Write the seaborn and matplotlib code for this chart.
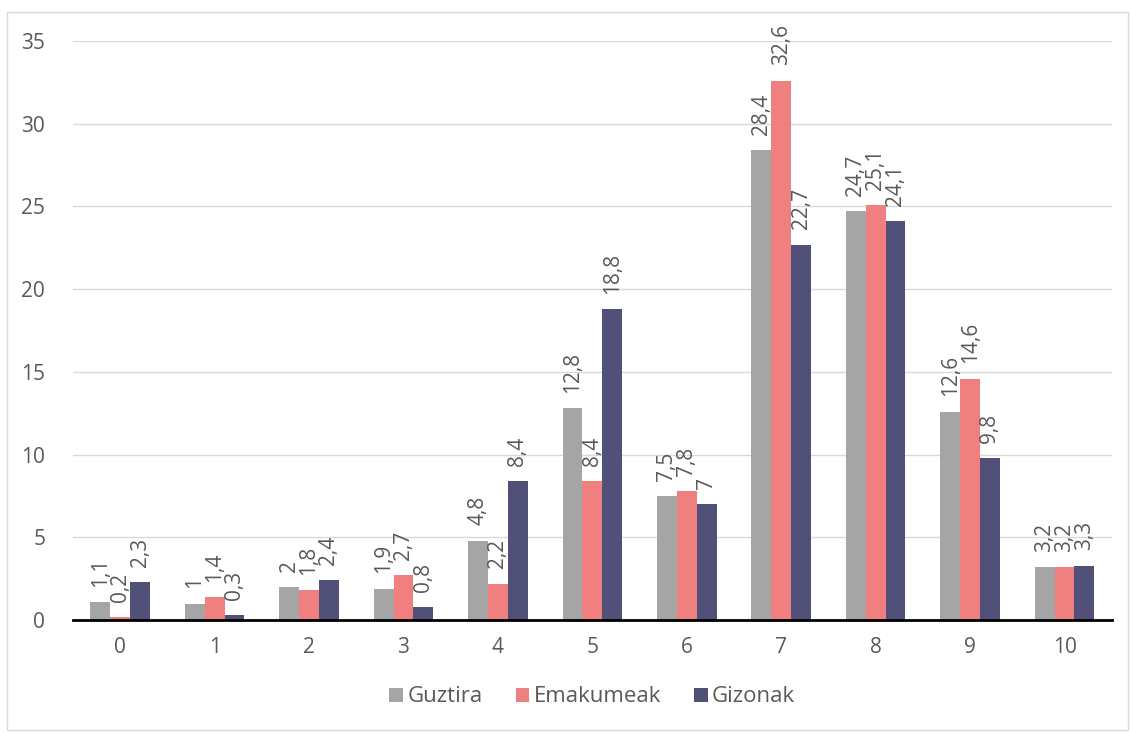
import pandas as pd
import matplotlib.pyplot as plt
import seaborn as sns
from matplotlib.patches import Rectangle

categories = ['0', '1', '2', '3', '4', '5', '6', '7', '8', '9', '10']
guztira = [1.1, 1, 2, 1.9, 4.8, 12.8, 7.5, 28.4, 24.7, 12.6, 3.2]
emakumeak = [0.2, 1.4, 1.8, 2.7, 2.2, 8.4, 7.8, 32.6, 25.1, 14.6, 3.2]
gizonak = [2.3, 0.3, 2.4, 0.8, 8.4, 18.8, 7, 22.7, 24.1, 9.8, 3.3]
series = ['Guztira', 'Emakumeak', 'Gizonak']
colors = ['#A5A5A5', '#F08080', '#505078']

df = pd.DataFrame({
    'cat': categories * 3,
    'value': guztira + emakumeak + gizonak,
    'serie': [s for s in series for _ in categories],
})

sns.set_style('white')
plt.rcParams['font.family'] = ['Open Sans', 'DejaVu Sans']
txt = '#595959'

fig = plt.figure(figsize=(11.31, 7.33), dpi=100)
ax = fig.add_axes([0.0645, 0.154, 0.9185, 0.79])

sns.barplot(data=df, x='cat', y='value', hue='serie', order=categories,
            hue_order=series, palette=colors, width=0.63, gap=0,
            saturation=1, ax=ax, linewidth=0)

# value labels
for cont, vals in zip(ax.containers, [guztira, emakumeak, gizonak]):
    labs = [str(v).replace('.', ',') for v in vals]
    ax.bar_label(cont, labels=labs, rotation=90, padding=11, fontsize=15, color=txt)

ax.set_ylim(0, 35)
ax.set_xlim(-0.5, 10.5)
ax.set_yticks(range(0, 36, 5))
ax.yaxis.grid(True, color='#D9D9D9', linewidth=1)
ax.set_axisbelow(True)
for s in ['top', 'right', 'left']:
    ax.spines[s].set_visible(False)
ax.spines['bottom'].set_color('black')
ax.spines['bottom'].set_linewidth(2)

ax.set_xticks([i + 0.5 for i in range(-1, 11)], minor=True)
ax.tick_params(axis='x', which='minor', length=7, width=2, color='black', direction='out')
ax.tick_params(axis='x', which='major', length=0, pad=12, labelsize=15, labelcolor=txt)
ax.tick_params(axis='y', length=0, pad=20, labelsize=15, labelcolor=txt)
ax.set_xlabel('')
ax.set_ylabel('')

ax.legend(loc='upper center', bbox_to_anchor=(0.5, -0.08), ncol=3, frameon=False,
          fontsize=16, labelcolor=txt, handlelength=0.6, handleheight=0.6,
          handletextpad=0.2, columnspacing=1.5)

fig.patches.append(Rectangle((7 / 1131, 3 / 733), 1 - 10 / 1131, 1 - 15 / 733,
                             transform=fig.transFigure, fill=False,
                             edgecolor='#D9D9D9', linewidth=1))

fig.savefig('out.png', dpi=100)
